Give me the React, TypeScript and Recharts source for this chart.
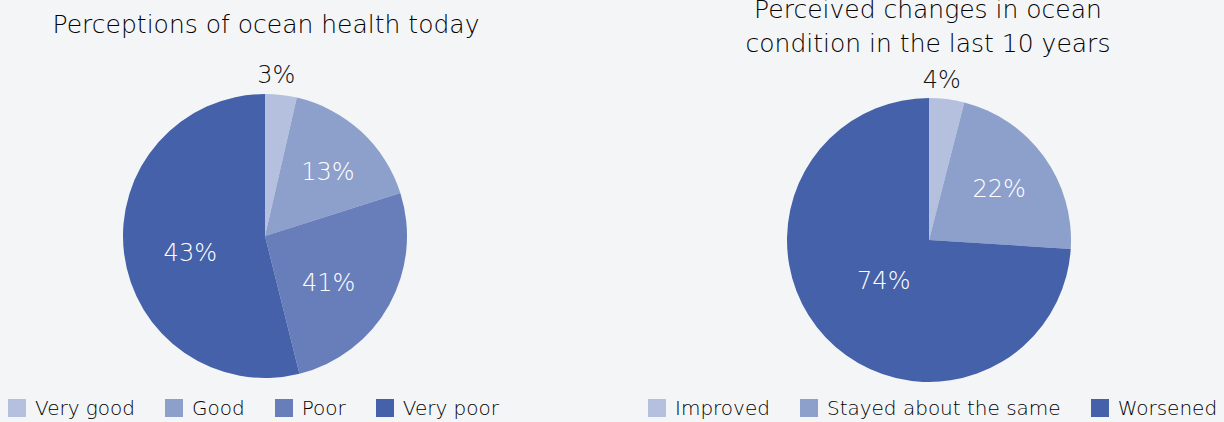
import React from "react";
import { PieChart, Pie, Cell, Legend } from "recharts";

// left chart: perceptions of ocean health today
const healthCategories = ["Very good", "Good", "Poor", "Very poor"];
const healthValues = [3.6, 16.5, 26.0, 53.9];
const healthLabels = ["3%", "13%", "41%", "43%"];

// right chart: perceived changes in the last 10 years
const changeCategories = ["Improved", "Stayed about the same", "Worsened"];
const changeValues = [4, 22, 74];
const changeLabels = ["4%", "22%", "74%"];

const healthColors = ["#b4c0de", "#8d9fcb", "#687ebb", "#4561a9"];
const changeColors = ["#b4c0de", "#8d9fcb", "#4561a9"];

// label placement: distance as a fraction of the radius, and a clockwise nudge in degrees
const healthLabelRadius = [1.137, 0.63, 0.556, 0.54];
const healthLabelShift = [-2.5, 2, 7, -6];
const changeLabelRadius = [1.13, 0.61, 0.43];
const changeLabelShift = [-2.6, 0, 1];

const FONT = "'DejaVu Sans', sans-serif";
const WEIGHT = 300;
const RAD = Math.PI / 180;
const W = 612;
const H = 422;

const makeLabel = (texts: string[], radii: number[], shifts: number[]) => (props: any) => {
    const { cx, cy, midAngle, outerRadius, index } = props;
    const r = outerRadius * radii[index];
    const a = midAngle - shifts[index];
    const x = cx + r * Math.cos(-a * RAD);
    const y = cy + r * Math.sin(-a * RAD);
    const outside = radii[index] > 1;
    return (
        <text
            x={x}
            y={y}
            fill={outside ? "#111" : "#fff"}
            textAnchor="middle"
            dominantBaseline="central"
            fontSize={24}
            fontWeight={WEIGHT}
            fontFamily={FONT}
        >
            {texts[index]}
        </text>
    );
};

// legend keeps the category order of the data
const makeLegend = (names: string[], colors: string[]) => () => (
    <div
        style={{
            display: "flex",
            alignItems: "center",
            whiteSpace: "nowrap",
            fontFamily: FONT,
            fontWeight: WEIGHT,
            fontSize: 20,
            color: "#000",
        }}
    >
        {names.map((n, i) => (
            <div key={n} style={{ display: "flex", alignItems: "center", marginRight: 30 }}>
                <span style={{ display: "inline-block", width: 18, height: 18, background: colors[i], marginRight: 9 }} />
                <span>{n}</span>
            </div>
        ))}
    </div>
);

const healthData = healthCategories.map((name, i) => ({ name, value: healthValues[i] }));
const changeData = changeCategories.map((name, i) => ({ name, value: changeValues[i] }));

const App: React.FC = () => {
    return (
        <div style={{ position: "absolute", left: 0, top: 0, width: 1224, height: 422, background: "#f4f5f7" }}>
            <div style={{ position: "absolute", left: 0, top: 0 }}>
                <PieChart width={W} height={H} margin={{ top: 0, right: 0, bottom: 0, left: 0 }}>
                    <Pie
                        data={healthData}
                        dataKey="value"
                        nameKey="name"
                        cx={265}
                        cy={236}
                        outerRadius={142}
                        startAngle={90}
                        endAngle={-270}
                        stroke="none"
                        labelLine={false}
                        label={makeLabel(healthLabels, healthLabelRadius, healthLabelShift)}
                        isAnimationActive={false}
                    >
                        {healthData.map((d, i) => (
                            <Cell key={d.name} fill={healthColors[i]} />
                        ))}
                    </Pie>
                    <Legend
                        content={makeLegend(healthCategories, healthColors)}
                        wrapperStyle={{ left: 8, top: 396, width: 600 }}
                    />
                </PieChart>
            </div>
            <div style={{ position: "absolute", left: W, top: 0 }}>
                <PieChart width={W} height={H} margin={{ top: 0, right: 0, bottom: 0, left: 0 }}>
                    <Pie
                        data={changeData}
                        dataKey="value"
                        nameKey="name"
                        cx={317}
                        cy={240}
                        outerRadius={142}
                        startAngle={90}
                        endAngle={-270}
                        stroke="none"
                        labelLine={false}
                        label={makeLabel(changeLabels, changeLabelRadius, changeLabelShift)}
                        isAnimationActive={false}
                    >
                        {changeData.map((d, i) => (
                            <Cell key={d.name} fill={changeColors[i]} />
                        ))}
                    </Pie>
                    <Legend
                        content={makeLegend(changeCategories, changeColors)}
                        wrapperStyle={{ left: 36, top: 396, width: 600 }}
                    />
                </PieChart>
            </div>
            <svg width={1224} height={422} style={{ position: "absolute", left: 0, top: 0, pointerEvents: "none" }}>
                <g fontFamily={FONT} fontWeight={WEIGHT} fontSize={25} fill="#000" textAnchor="middle">
                    <text x={266} y={33}>Perceptions of ocean health today</text>
                    <text x={928} y={18}>Perceived changes in ocean</text>
                    <text x={928} y={52}>condition in the last 10 years</text>
                </g>
            </svg>
        </div>
    );
};

export default App;
